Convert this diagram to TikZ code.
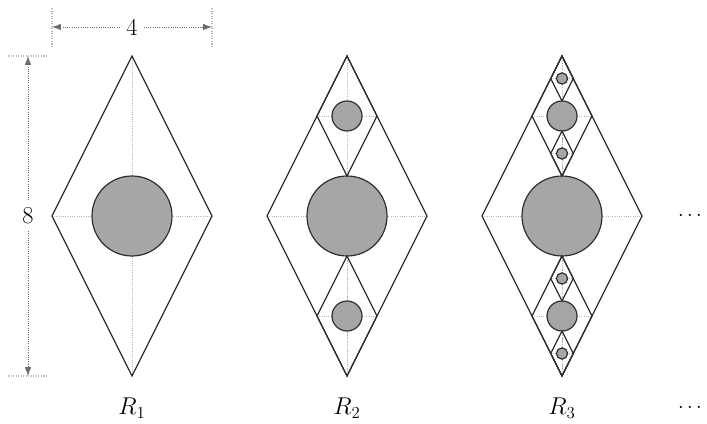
\documentclass[tikz,border=0pt]{standalone}
\usepackage{tikz}
\usepackage{xcolor}
\usetikzlibrary{arrows.meta,calc,positioning}
\definecolor{ink}{HTML}{2E2E2E}
\definecolor{guide}{HTML}{B4B4B4}
\definecolor{discfill}{HTML}{A6A6A6}
\tikzset{
  edge/.style={draw=ink,line width=0.85pt,line join=miter},
  axisline/.style={draw=guide,line width=0.6pt,densely dotted},
  disc/.style={draw=ink,fill=discfill,line width=0.85pt},
  dimline/.style={{Latex[length=2.2mm,width=1.6mm]}-{Latex[length=2.2mm,width=1.6mm]},draw=guide!60!black,line width=0.6pt,densely dotted},
  extline/.style={draw=guide,line width=0.8pt,densely dotted},
  lbl/.style={font=\LARGE,text=black,inner sep=1pt}
}
% one rhombus: centre x, centre y, scale
\newcommand{\rcell}[3]{%
  \draw[axisline] (#1,#2+4*#3) -- (#1,#2-4*#3) (#1-2*#3,#2) -- (#1+2*#3,#2);
  \draw[edge] (#1,#2+4*#3) -- (#1+2*#3,#2) -- (#1,#2-4*#3) -- (#1-2*#3,#2) -- cycle;
  \draw[disc] (#1,#2) circle[radius=#3];
}

\begin{document}
\begin{tikzpicture}
  \useasboundingbox (-3.3,-5.2) rectangle (14.375,5.4);
  % R1
  \rcell{0}{0}{1}
  % R2
  \rcell{5.375}{0}{1}
  \rcell{5.375}{2.5}{0.375}
  \rcell{5.375}{-2.5}{0.375}
  % R3
  \rcell{10.75}{0}{1}
  \foreach \sy in {1,-1}{
    \rcell{10.75}{\sy*2.5}{0.375}
    \rcell{10.75}{\sy*2.5+0.9375}{0.140625}
    \rcell{10.75}{\sy*2.5-0.9375}{0.140625}
  }
  % dimensions
  \coordinate (wl) at (-2,4.725);
  \coordinate (wr) at (2,4.725);
  \coordinate (ht) at (-2.6,4);
  \coordinate (hb) at (-2.6,-4);
  \draw[extline] (-2,5.2) -- (-2,4.25) (2,5.2) -- (2,4.25);
  \draw[extline] (-3.1,4) -- (-2.15,4) (-3.1,-4) -- (-2.15,-4);
  \draw[dimline] (wl) -- node[lbl,fill=white,inner sep=4pt] (wlabel) {4} (wr);
  \draw[dimline] (ht) -- node[lbl,fill=white,inner sep=4pt] (hlabel) {8} (hb);
  % labels
  \node[lbl] (r1) at (0,-4.8) {$R_1$};
  \node[lbl] (r2) at (5.375,-4.8) {$R_2$};
  \node[lbl] (r3) at (10.75,-4.8) {$R_3$};
  \node[lbl,font=\Large] (more) at (13.95,0) {$\cdots$};
  \node[lbl,font=\Large] (moretoo) at (13.95,-4.8) {$\cdots$};
\end{tikzpicture}
\end{document}
